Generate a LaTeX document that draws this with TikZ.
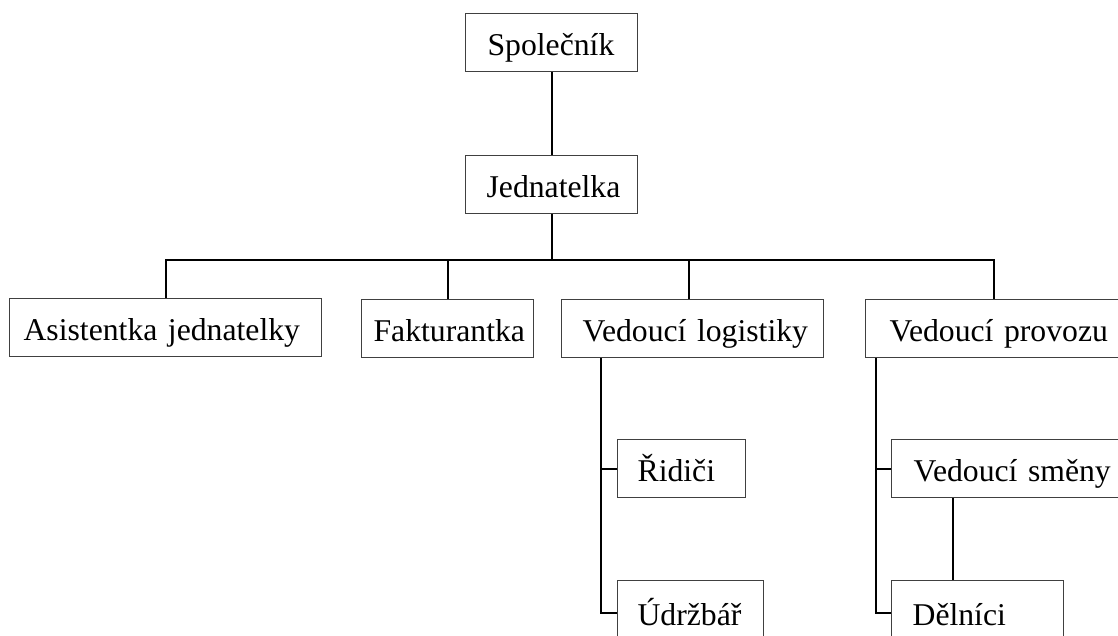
\documentclass[tikz,border=0pt]{standalone}
\usepackage{fontspec}
\setmainfont{Liberation Serif}
\begin{document}
\begin{tikzpicture}[x=1pt,y=-1pt,
  box/.style={draw=black!75, line width=1.2pt, fill=white, anchor=north west,
    minimum height=58pt, inner ysep=0pt, text height=30pt, text depth=4pt,
    align=left, font=\fontsize{31.7}{36}\selectfont},
  conn/.style={draw=black, line width=2pt}]
\useasboundingbox (0,0) rectangle (1118,635);
\clip (0,0) rectangle (1118,635);
\fill[white] (0,0) rectangle (1118,635);
% nodes: (left,top), text width = W - 2p, inner xsep = p
\node[box, text width=128pt, inner xsep=22pt] (spol) at (465,13) {\mbox{Společník}};
\node[box, text width=130pt, inner xsep=21pt] (jedn) at (465,155) {\mbox{Jednatelka}};
\node[box, text width=284pt, inner xsep=14pt] (asist) at (9,298) {\mbox{Asistentka jednatelky}};
\node[box, text width=148pt, inner xsep=12pt] (fakt) at (361,299) {\mbox{Fakturantka}};
\node[box, text width=220pt, inner xsep=21pt] (vlog) at (561,299) {\mbox{Vedoucí logistiky}};
\node[box, text width=208pt, inner xsep=24pt] (vprov) at (865,299) {\mbox{Vedoucí provozu}};
\node[box, text width=88pt, inner xsep=20pt] (ridici) at (617,439) {\mbox{Řidiči}};
\node[box, text width=106pt, inner xsep=20pt, minimum height=64pt] (udrz) at (617,580) {\mbox{Údržbář}};
\node[box, text width=206pt, inner xsep=22pt] (vsmen) at (891,439) {\mbox{Vedoucí směny}};
\node[box, text width=130pt, inner xsep=21pt, minimum height=64pt] (deln) at (891,580) {\mbox{Dělníci}};
% connectors
\coordinate (bus) at (0,260);
\draw[conn] (spol) -- (jedn);
\draw[conn] (jedn.south) -- (jedn.south |- bus);
\draw[conn] (asist.north) -- (asist.north |- bus) -- (vprov.north |- bus) -- (vprov.north);
\draw[conn] (fakt.north) -- (fakt.north |- bus);
\draw[conn] ([xshift=-4pt]vlog.north) -- ([xshift=-4pt]vlog.north |- bus);
\coordinate (tlog) at ([xshift=40pt]vlog.south west);
\draw[conn] (tlog) |- (udrz.west);
\draw[conn] (ridici.west) -- (ridici.west -| tlog);
\coordinate (tprov) at ([xshift=11pt]vprov.south west);
\draw[conn] (tprov) |- (deln.west);
\draw[conn] (vsmen.west) -- (vsmen.west -| tprov);
\draw[conn] ([xshift=62pt]vsmen.south west) -- ([xshift=62pt]deln.north west);
\end{tikzpicture}
\end{document}
